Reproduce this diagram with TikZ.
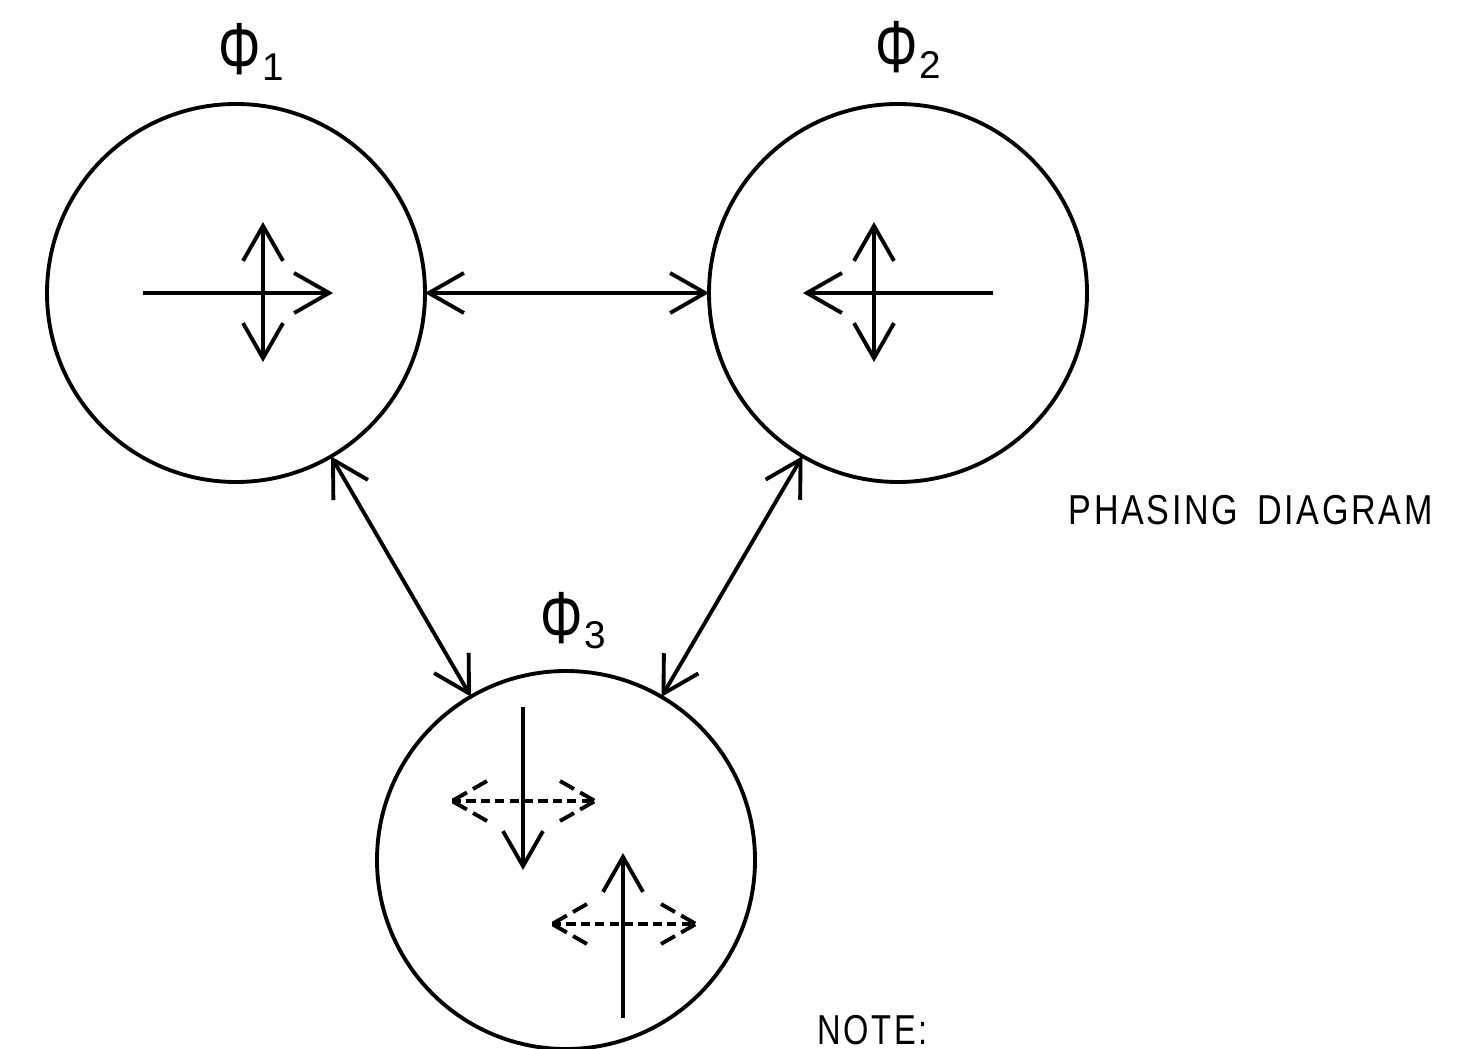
\documentclass[tikz,border=0pt]{standalone}
\usepackage{fontspec}
\setmainfont{Liberation Sans}
\newfontfamily\spacedfont[LetterSpace=8]{Liberation Sans}
\usetikzlibrary{arrows.meta}
\newcommand{\philabel}[1]{\scalebox{0.72}[1]{\fontsize{21}{21}\selectfont Φ}\hspace{0.5pt}\raisebox{-1.6pt}{\fontsize{11}{11}\selectfont #1}}
\begin{document}
\begin{tikzpicture}[x=1cm,y=1cm,
  >={Straight Barb[length=3.5mm,width=4mm]},
  ring/.style={circle, draw, line width=1.1pt, minimum size=3.78cm, inner sep=0pt, outer sep=0pt},
  vec/.style={line width=1.1pt},
  link/.style={line width=1.1pt, <->},
  dvec/.style={line width=1.1pt, dash pattern=on 2.6pt off 1.5pt},
  dbarb/.style={line width=1.1pt, dash pattern=on 4.6pt off 2pt},
  lab/.style={anchor=base west, inner sep=0pt},
  txt/.style={anchor=base west, inner sep=0pt, font=\spacedfont\fontsize{11.9}{12}\selectfont}
]
\useasboundingbox (0,0) rectangle (14.62,-10.49);

% circles
\node[ring] (c1) at (2.36,-2.93) {};
\node[ring] (c2) at (8.98,-2.93) {};
\node[ring] (c3) at (5.66,-8.60) {};

% labels
\node[lab] (l1) at (2.18,-0.75) {\philabel{1}};
\node[lab] (l2) at (8.75,-0.73) {\philabel{2}};
\node[lab] (l3) at (5.40,-6.43) {\philabel{3}};

% connectors
\draw[link] (c1) -- (c2);
\draw[link] (c1) -- (c3);
\draw[link] (c2) -- (c3);

% phase 1 vectors
\draw[vec,->] (1.43,-2.93) -- (3.33,-2.93);
\draw[vec,<->] (2.63,-2.22) -- (2.63,-3.62);

% phase 2 vectors
\draw[vec,->] (9.93,-2.93) -- (8.03,-2.93);
\draw[vec,<->] (8.74,-2.22) -- (8.74,-3.62);

% phase 3 vectors
\draw[vec,->] (5.23,-7.07) -- (5.23,-8.70);
\draw[vec,->] (6.23,-10.18) -- (6.23,-8.53);
\draw[dvec] (4.52,-8.01) -- (5.95,-8.01);
\draw[dbarb] (4.87,-7.81) -- (4.52,-8.01);
\draw[dbarb] (4.87,-8.21) -- (4.52,-8.01);
\draw[dbarb] (5.60,-7.81) -- (5.95,-8.01);
\draw[dbarb] (5.60,-8.21) -- (5.95,-8.01);
\draw[dvec] (5.52,-9.24) -- (6.96,-9.24);
\draw[dbarb] (5.87,-9.04) -- (5.52,-9.24);
\draw[dbarb] (5.87,-9.44) -- (5.52,-9.24);
\draw[dbarb] (6.61,-9.04) -- (6.96,-9.24);
\draw[dbarb] (6.61,-9.44) -- (6.96,-9.24);

% texts
\node[txt] (title) at (10.68,-5.25) {\scalebox{0.815}[1]{PHASING\hspace{0.55em}DIAGRAM}};
\node[txt] (note) at (8.17,-10.44) {\scalebox{0.78}[1]{NOTE:}};
\end{tikzpicture}
\end{document}
